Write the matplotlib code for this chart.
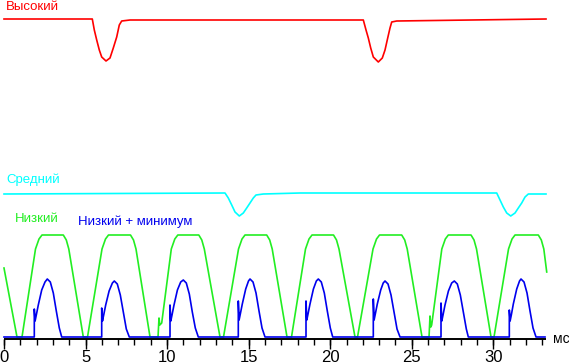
import numpy as np
import matplotlib
matplotlib.use("Agg")
import matplotlib.pyplot as plt

plt.rcParams['font.family'] = ['Liberation Sans', 'DejaVu Sans']

# time in ms, amplitude in arbitrary units (green plateau ~102)
high_t = [0.0, 5.414, 5.537, 5.684, 5.843, 5.990, 6.254, 6.499, 6.701, 6.910,
          7.069, 7.216, 7.725, 22.03, 22.195, 22.336, 22.483, 22.643, 22.949,
          23.194, 23.360, 23.525, 23.666, 23.771, 24.077, 33.23]
high_v = [318, 318, 307, 297, 287, 280, 276, 279, 289, 300,
          312, 316, 317, 317, 307, 299, 289, 280, 275,
          279, 287, 299, 309, 315, 316, 318]

mid_t = [0.0, 13.55, 13.752, 13.961, 14.163, 14.427, 14.672, 14.880, 15.083,
         15.285, 15.451, 15.898, 18.148, 30.208, 30.411, 30.613, 30.822,
         31.067, 31.330, 31.533, 31.741, 31.944, 32.146, 33.23]
mid_v = [143, 144, 139, 132, 125, 121, 124, 129, 134,
         139, 142, 143, 144, 144, 137, 130, 124,
         121, 124, 129, 134, 140, 143, 143]

low_t = [0.0, 0.797, 1.104, 1.931, 2.146, 2.330, 3.636, 3.820, 3.973,
         4.862, 5.120, 6.009, 6.223, 6.407, 7.756, 7.940, 8.093,
         8.952, 9.443, 9.503, 9.553, 9.669, 10.257, 10.472, 10.656, 11.944, 12.127, 12.281,
         13.243, 13.458, 14.378, 14.592, 14.776, 16.107, 16.291, 16.444,
         17.351, 17.627, 18.485, 18.700, 18.884, 20.202, 20.386, 20.539,
         21.520, 21.674, 22.624, 22.839, 23.023, 24.384, 24.568, 24.721,
         25.628, 26.058, 26.119, 26.168, 26.221, 26.842, 27.057, 27.241, 28.633, 28.817, 28.970,
         29.859, 30.043, 30.932, 31.147, 31.331, 32.759, 32.943, 33.096, 33.274]
low_v = [69, 0, 0, 88, 98, 102, 102, 97, 88,
         0, 0, 88, 98, 102, 102, 97, 88,
         0, 0, 19, 12, 14, 88, 98, 102, 102, 97, 88,
         0, 0, 88, 98, 102, 102, 97, 88,
         0, 0, 88, 98, 102, 102, 97, 88,
         0, 0, 88, 98, 102, 102, 97, 88,
         0, 0, 21, 10, 12, 88, 98, 102, 102, 97, 88,
         0, 0, 88, 98, 102, 102, 97, 88, 65]

lowmin_t = [0.0,
            1.858, 1.858, 1.907, 1.981, 2.103, 2.312, 2.514, 2.655, 2.839, 3.023, 3.207, 3.391, 3.538,
            5.990, 5.990, 6.039, 6.113, 6.235, 6.444, 6.646, 6.763, 6.947, 7.131, 7.315, 7.499, 7.682,
            10.178, 10.178, 10.227, 10.301, 10.423, 10.632, 10.834, 10.993, 11.177, 11.361, 11.545, 11.729, 11.913,
            14.365, 14.365, 14.414, 14.488, 14.610, 14.819, 14.990, 15.083, 15.267, 15.451, 15.635, 15.819, 16.002,
            18.516, 18.516, 18.565, 18.639, 18.761, 18.970, 19.150, 19.270, 19.454, 19.638, 19.822, 20.006, 20.153,
            22.642, 22.642, 22.691, 22.765, 22.887, 23.096, 23.250, 23.360, 23.544, 23.728, 23.912, 24.096, 24.280,
            26.793, 26.793, 26.842, 26.916, 27.038, 27.247, 27.449, 27.609, 27.793, 27.977, 28.161, 28.345, 28.467,
            30.981, 30.981, 31.030, 31.104, 31.226, 31.435, 31.607, 31.698, 31.882, 32.066, 32.250, 32.434, 32.618,
            33.17]
lowmin_v = [0,
            0, 28, 16, 22, 32, 47, 55, 58, 55, 44, 26, 9, 0,
            0, 29, 16, 22, 32, 46, 54, 56, 53, 42, 25, 8, 0,
            0, 32, 16, 22, 32, 47, 55, 57, 54, 43, 25, 9, 0,
            0, 36, 17, 23, 33, 48, 56, 58, 55, 44, 26, 9, 0,
            0, 36, 17, 23, 33, 48, 56, 58, 55, 44, 26, 9, 0,
            0, 38, 17, 23, 33, 47, 54, 56, 53, 42, 25, 8, 0,
            0, 34, 16, 22, 32, 46, 54, 56, 53, 42, 25, 8, 0,
            0, 27, 16, 22, 33, 48, 56, 58, 55, 44, 26, 9, 0,
            0]

major_ticks = [0, 5, 10, 15, 20, 25, 30]
minor_ticks = list(range(0, 34))
unit_label = "мс"

c_high = '#ff0000'
c_mid = '#00ffff'
c_low = '#22ee22'
c_lowmin = '#0000ee'

fig = plt.figure(figsize=(5.69, 3.63), dpi=100)
ax = fig.add_axes([0, 0, 1, 1])
ax.axis('off')
ax.set_xlim(-0.245, 34.64)
ax.set_ylim(-26, 337)

# time axis
ax.plot([0, 33.25], [-1.5, -1.5], color='black', lw=1.4, solid_capstyle='butt')
ax.vlines(minor_ticks, -1.5, -7.5, color='black', lw=1.0)
ax.vlines(major_ticks, -1.5, -11.5, color='black', lw=1.0)
for m in major_ticks:
    ax.text(m, -24.5, str(m), ha='center', va='baseline', fontsize=12)
ax.text(33.66, -2, unit_label, ha='left', va='center', fontsize=10)

lw = 1.2
ax.plot(high_t, high_v, color=c_high, lw=lw)
ax.plot(mid_t, mid_v, color=c_mid, lw=lw)
ax.plot(low_t, low_v, color=c_low, lw=lw)
ax.plot(lowmin_t, lowmin_v, color=c_lowmin, lw=lw)

ax.text(0.12, 327, "Высокий", color=c_high, fontsize=9.5, va='baseline')
ax.text(0.12, 154, "Средний", color=c_mid, fontsize=9.5, va='baseline')
ax.text(0.67, 115, "Низкий", color=c_low, fontsize=9.5, va='baseline')
ax.text(4.54, 112, "Низкий + минимум", color=c_lowmin, fontsize=9.5, va='baseline')

fig.savefig('out.png', dpi=100)
